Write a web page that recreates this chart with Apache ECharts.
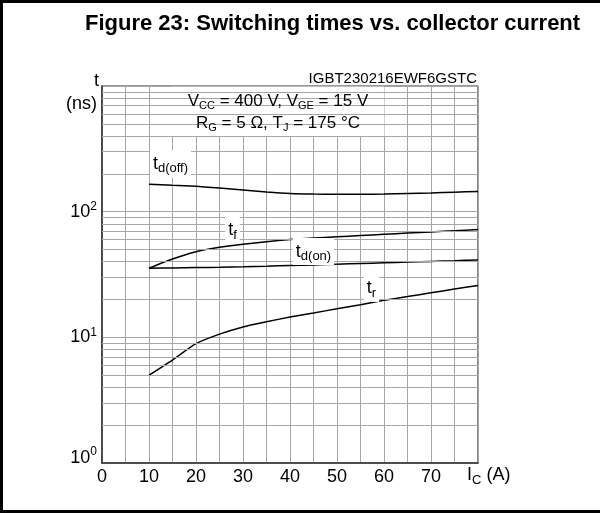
<!DOCTYPE html>
<html><head><meta charset="utf-8">
<script src="https://cdn.jsdelivr.net/npm/echarts@6/dist/echarts.min.js"></script>
<style>html,body{margin:0;padding:0;background:#fff}#c{width:600px;height:513px}</style>
</head><body><div id="c"></div>
<script>
// ---- data ----
const current = [10, 15, 20, 25, 30, 35, 40, 45, 50, 55, 60, 65, 70, 75, 80];
const tdOff = [165, 162, 159, 154, 149, 143.5, 139.5, 138, 137.5, 137.5, 138, 139.5, 141, 143, 145];
const tF    = [35.5, 42, 48, 52, 55, 57.7, 60, 61.6, 63.1, 64.6, 66, 67.5, 69, 70.5, 72];
const tdOn  = [35.5, 35.7, 35.9, 36.1, 36.4, 36.8, 37.3, 37.7, 38.2, 38.7, 39.2, 39.7, 40.2, 40.7, 41.3];
const tR    = [5, 6.6, 8.9, 10.6, 12.1, 13.3, 14.5, 15.6, 16.9, 18.2, 19.7, 21.1, 22.6, 24.2, 25.9];
const xTickLabels = [0, 10, 20, 30, 40, 50, 60, 70];
const yDecadeLabels = [1, 10, 100];
const minorLogLines = [2,3,4,5,6,7,8,9,20,30,40,50,60,70,80,90,200,300,400,500,600,700,800,900];

const FF = '"Liberation Sans", Arial, sans-serif';
const GRID_C = '#a6a6a6';
const richCommon = {
  t: { fontSize: 18, fontFamily: FF, color: '#000' },
  s: { fontSize: 13, fontFamily: FF, color: '#000', padding: [10, 0, 0, 0] }
};
function pair(xs, ys) { return xs.map((x, i) => [x, ys[i]]); }
function curve(name, ys, lblCoord, lblText) {
  return {
    name, type: 'line', data: pair(current, ys), smooth: 0.2,
    symbol: 'none', z: 3,
    lineStyle: { color: '#000', width: 1.5 },
    markPoint: {
      silent: true, symbol: 'circle', symbolSize: 0.01, itemStyle: { color: 'rgba(0,0,0,0)' },
      label: {
        show: true, position: 'right', distance: 0, formatter: lblText,
        backgroundColor: '#fff', padding: [2, 3, 2, 3], rich: richCommon
      },
      data: [{ coord: lblCoord }]
    }
  };
}

const chart = echarts.init(document.getElementById('c'), null, { renderer: 'canvas' });
chart.setOption({
  animation: false,
  backgroundColor: '#fff',
  title: {
    text: 'Figure 23: Switching times vs. collector current',
    left: 80, top: 8,
    textStyle: { fontFamily: FF, fontSize: 22, fontWeight: 'bold', color: '#000' }
  },
  grid: { left: 102, right: 122, top: 86, bottom: 50, show: true, borderColor: '#333', borderWidth: 1.2, backgroundColor: 'transparent' },
  xAxis: {
    type: 'value', min: 0, max: 80, interval: 5,
    axisLine: { show: true, lineStyle: { color: '#333', width: 1.5 } },
    axisTick: { show: false },
    splitLine: { show: true, lineStyle: { color: GRID_C, width: 1 } },
    axisLabel: {
      margin: 5, fontFamily: FF, fontSize: 18, color: '#000', showMaxLabel: true,
      formatter: v => xTickLabels.includes(v) ? String(v) : ''
    },
    name: '{t|I}{s|C}{t| (A)}', nameLocation: 'end', nameGap: -11,
    nameTextStyle: { align: 'left', padding: [24, 0, 0, 0], rich: richCommon }
  },
  yAxis: {
    type: 'log', logBase: 10, min: 1, max: 1000,
    axisLine: { show: true, lineStyle: { color: '#333', width: 1.5 } },
    axisTick: { show: false },
    splitLine: { show: true, lineStyle: { color: GRID_C, width: 1 } },
    axisLabel: {
      margin: 5,
      formatter: v => {
        if (!yDecadeLabels.includes(v)) return '';
        const e = Math.round(Math.log10(v));
        return e === 0 ? '{b0|10}{p0|' + e + '}' : '{b|10}{p|' + e + '}';
      },
      rich: {
        b: { fontSize: 18, fontFamily: FF, color: '#000' },
        p: { fontSize: 12, fontFamily: FF, color: '#000', padding: [0, 0, 10, 0] },
        b0: { fontSize: 18, fontFamily: FF, color: '#000', padding: [0, 0, 10, 0] },
        p0: { fontSize: 12, fontFamily: FF, color: '#000', padding: [0, 0, 22, 0] }
      }
    }
  },
  graphic: [
    { type: 'rect', silent: true, shape: { x: 0, y: 0, width: 600, height: 3 }, style: { fill: '#000' } },
    { type: 'rect', silent: true, shape: { x: 0, y: 0, width: 3, height: 513 }, style: { fill: '#000' } },
    { type: 'rect', silent: true, shape: { x: 0, y: 510, width: 600, height: 3 }, style: { fill: '#000' } },
    { type: 'text', silent: true, style: { text: 'IGBT230216EWF6GSTC', x: 477, y: 86, font: '15px ' + FF, fill: '#000', align: 'right', textAlign: 'right', verticalAlign: 'bottom', textVerticalAlign: 'bottom' } },
    { type: 'text', silent: true, style: { text: 't', x: 99, y: 81, font: '18px ' + FF, fill: '#000', align: 'right', textAlign: 'right', verticalAlign: 'middle', textVerticalAlign: 'middle' } },
    { type: 'text', silent: true, style: { text: '(ns)', x: 97, y: 104, font: '18px ' + FF, fill: '#000', align: 'right', textAlign: 'right', verticalAlign: 'middle', textVerticalAlign: 'middle' } },
    { type: 'text', silent: true, z: 10, style: { text: '{t|V}{s|CC}{t| = 400 V, V}{s|GE}{t| = 15 V}', rich: { t: { fontSize: 17, fontFamily: FF, color: '#000' }, s: { fontSize: 11, fontFamily: FF, color: '#000', padding: [9, 0, 0, 0] } }, x: 278, y: 101, align: 'center', textAlign: 'center', verticalAlign: 'middle', textVerticalAlign: 'middle' } },
    { type: 'text', silent: true, z: 10, style: { text: '{t|R}{s|G}{t| = 5 Ω, T}{s|J}{t| = 175 °C}', rich: { t: { fontSize: 17, fontFamily: FF, color: '#000' }, s: { fontSize: 11, fontFamily: FF, color: '#000', padding: [9, 0, 0, 0] } }, x: 278, y: 123, align: 'center', textAlign: 'center', verticalAlign: 'middle', textVerticalAlign: 'middle' } }
  ],
  series: [
    {
      type: 'line', data: [[0, 1]], symbol: 'none', z: 1, lineStyle: { opacity: 0 },
      markLine: {
        silent: true, symbol: 'none', label: { show: false },
        lineStyle: { color: GRID_C, width: 1, type: 'solid' },
        data: minorLogLines.map(v => ({ yAxis: v }))
      }
    },
    {
      type: 'line', data: [[0, 1]], symbol: 'none', z: 2, lineStyle: { opacity: 0 },
      markArea: {
        silent: true, itemStyle: { color: '#fff' },
        data: [[{ xAxis: 14.8, yAxis: 400 }, { xAxis: 60.1, yAxis: 985 }]]
      }
    },
    curve('td(off)', tdOff, [10.2, 240], '{t|t}{s|d(off)}'),
    curve('tf', tF, [26.2, 71.3], '{t|t}{s|f}'),
    curve('td(on)', tdOn, [40.6, 48.1], '{t|t}{s|d(on)}'),
    curve('tr', tR, [55.7, 24.5], '{t|t}{s|r}')
  ]
});
</script>
</body></html>
